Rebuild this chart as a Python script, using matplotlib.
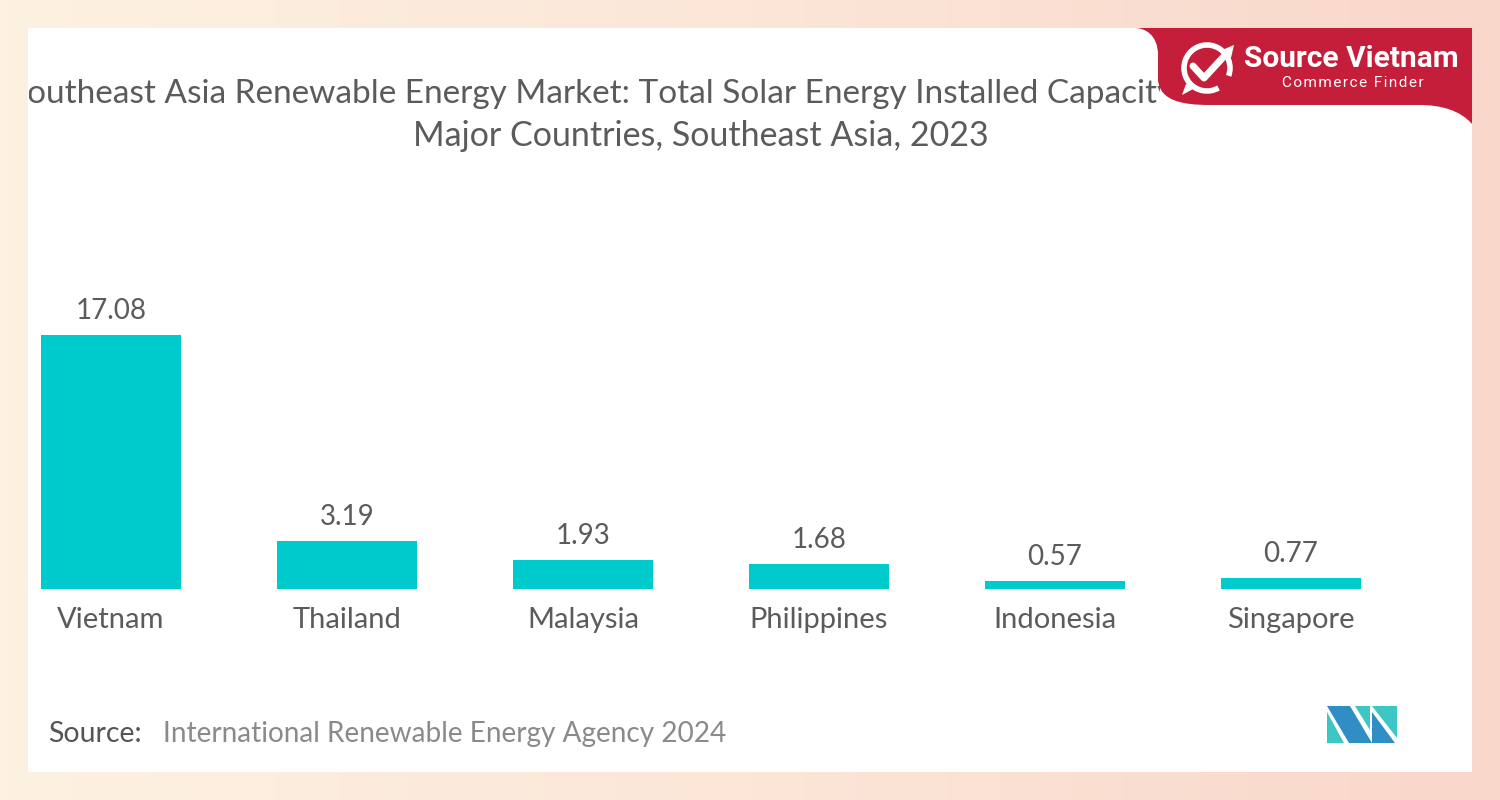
import matplotlib
matplotlib.use("Agg")
import matplotlib.pyplot as plt
import numpy as np
from matplotlib.patches import Rectangle, PathPatch, Polygon, Arc
from matplotlib.path import Path
from matplotlib.transforms import Bbox, TransformedBbox
from matplotlib.colors import LinearSegmentedColormap

# ---- data ----
countries = ["Vietnam", "Thailand", "Malaysia", "Philippines", "Indonesia", "Singapore"]
capacity_gw = [17.08, 3.19, 1.93, 1.68, 0.57, 0.77]
value_labels = ["17.08", "3.19", "1.93", "1.68", "0.57", "0.77"]
title_line1 = "Southeast Asia Renewable Energy Market: Total Solar Energy Installed Capacity"
title_line2 = "Major Countries, Southeast Asia, 2023"
source_label = "Source:"
source_text = "International Renewable Energy Agency 2024"

BAR_COLOR = "#00CBCC"
TXT = "#5b5b5b"
FONT = "Lato"

W, H = 1500, 800
fig = plt.figure(figsize=(15, 8), dpi=100)

# background axes in pixel coordinates
bg = fig.add_axes([0, 0, 1, 1])
bg.set_xlim(0, W)
bg.set_ylim(H, 0)
bg.axis("off")
grad = np.linspace(0, 1, 256)[None, :]
cmap = LinearSegmentedColormap.from_list("bg", ["#FDF1E2", "#FBE6D8", "#F9D7CA"])
bg.imshow(grad, extent=[0, W, H, 0], aspect="auto", cmap=cmap, zorder=0)

panel = Rectangle((28, 28), 1444, 744, facecolor="white", edgecolor="none", zorder=1)
bg.add_patch(panel)

# title (line 1 runs off the panel on the left and under the banner on the right)
t1 = bg.text(9, 103, title_line1, fontsize=24, family=FONT, color=TXT,
             ha="left", va="baseline", zorder=2)
t1.set_clip_box(TransformedBbox(Bbox([[29, 28], [1160, 772]]), bg.transData))
t1.set_clip_on(True)
bg.text(701, 146, title_line2, fontsize=24.5, family=FONT, color=TXT,
        ha="center", va="baseline", zorder=2)

# red logo banner
verts = [(1135, 28), (1472, 28), (1472, 124),
         (1460, 110), (1440, 105), (1420, 105),
         (1210, 105),
         (1180, 105), (1160, 100), (1158, 80),
         (1158, 55),
         (1158, 35), (1145, 28), (1135, 28)]
codes = [Path.MOVETO, Path.LINETO, Path.LINETO,
         Path.CURVE4, Path.CURVE4, Path.CURVE4,
         Path.LINETO,
         Path.CURVE4, Path.CURVE4, Path.CURVE4,
         Path.LINETO,
         Path.CURVE4, Path.CURVE4, Path.CURVE4]
bg.add_patch(PathPatch(Path(verts, codes), facecolor="#C41E3A", edgecolor="none", zorder=5))
# icon
bg.add_patch(Arc((1207, 68), 46, 46, theta1=60, theta2=20, color="white", lw=4, zorder=6))
bg.plot([1193, 1204, 1228], [66, 78, 52], color="white", lw=5, solid_capstyle="round", zorder=7)
bg.add_patch(Polygon([[1222, 50], [1234, 45], [1231, 58]], closed=True, facecolor="white", zorder=7))
bg.add_patch(Polygon([[1186, 84], [1182, 95], [1195, 88]], closed=True, facecolor="white", zorder=7))
bg.text(1351, 59, "Source Vietnam", fontsize=21.5, family="Roboto", weight="bold", color="white",
        ha="center", va="center", zorder=7)
bg.text(1353, 83, "\u200a".join("Commerce Finder"),
        fontsize=11, family=["Roboto", "DejaVu Sans"], color="white", ha="center", va="center", zorder=7)

# source
bg.text(48, 742, source_label, fontsize=20.5, family=FONT, color="#555555",
        ha="left", va="baseline", zorder=2)
bg.text(163, 742, source_text, fontsize=20.2, family=FONT, color="#8a8a8a",
        ha="left", va="baseline", zorder=2)

# bottom-right logo
blue, teal = "#2F8FC4", "#3CC7C4"
bg.add_patch(Polygon([[1327, 706], [1350, 706], [1372, 743], [1349, 743]], closed=True, facecolor=blue, zorder=2))
bg.add_patch(Polygon([[1327, 712], [1327, 743], [1344, 743]], closed=True, facecolor=teal, zorder=2))
bg.add_patch(Polygon([[1355, 706], [1370, 706], [1370, 730]], closed=True, facecolor=teal, zorder=2))
bg.add_patch(Polygon([[1372, 706], [1397, 706], [1397, 738]], closed=True, facecolor=teal, zorder=2))
bg.add_patch(Polygon([[1372, 712], [1395, 743], [1372, 743]], closed=True, facecolor=blue, zorder=2))

# ---- bar chart ----
left_px, right_px = 40.2, 1361.8
base_px, top_px = 589, 291
ax = fig.add_axes([left_px / W, (H - base_px) / H, (right_px - left_px) / W, (base_px - top_px) / H])
ax.set_facecolor("none")
x = np.arange(len(countries))
ax.bar(x, capacity_gw, width=0.593, color=BAR_COLOR, zorder=3)
ax.set_xlim(-0.3, 5.3)
ax.set_ylim(0, 20)
ax.axis("off")
for i, (v, lab) in enumerate(zip(capacity_gw, value_labels)):
    ax.annotate(lab, (i, v), xytext=(0, 16), textcoords="offset pixels", ha="center",
                va="baseline", fontsize=20, family=FONT, color=TXT)
    ax.annotate(countries[i], (i, 0), xytext=(0, -39), textcoords="offset pixels", ha="center",
                va="baseline", fontsize=21, family=FONT, color=TXT)

fig.savefig("out.png", dpi=100)
